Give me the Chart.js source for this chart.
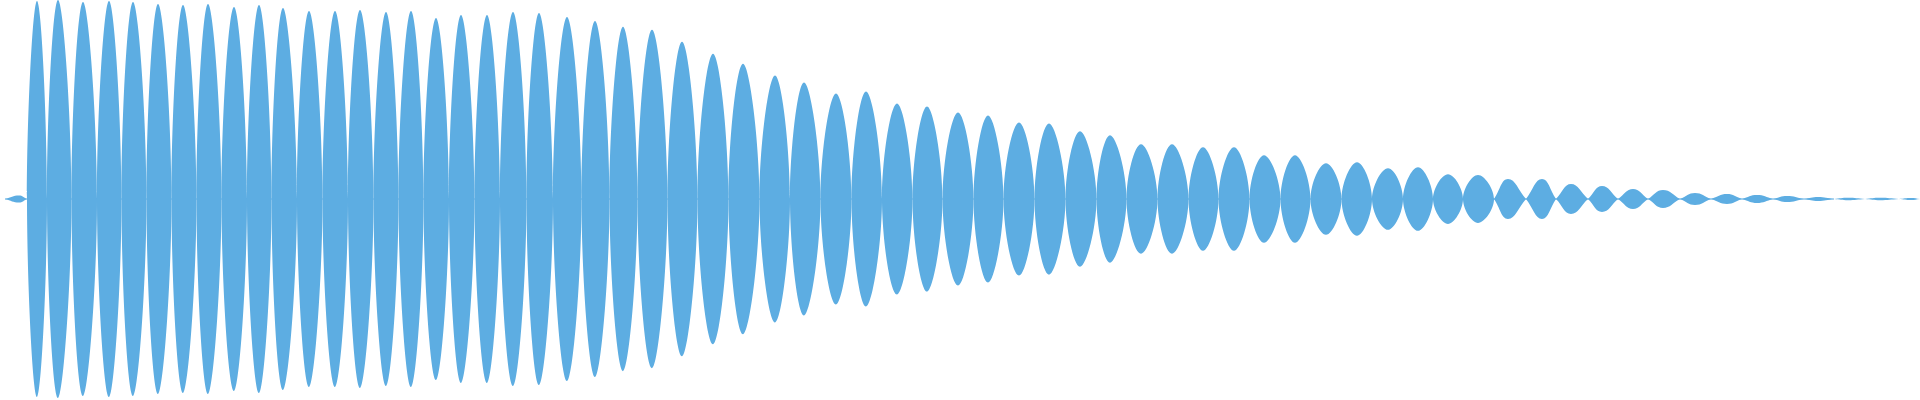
<!DOCTYPE html>
<html>
<head>
<meta charset="utf-8">
<title>Waveform</title>
<script src="https://cdn.jsdelivr.net/npm/chart.js@4/dist/chart.umd.min.js"></script>
<style>
  html, body { margin: 0; padding: 0; background: #ffffff; }
  #wrap { width: 1920px; height: 400px; position: relative; }
</style>
</head>
<body>
<div id="wrap"><canvas id="wave"></canvas></div>
<script>
// Waveform: one lobe per half cycle, drawn mirrored.
// Time in ms (clip ~1.92 s), amplitude normalised to full scale (1.0).

// zero crossings, lobe i runs from zeroCrossingsMs[i] to zeroCrossingsMs[i + 1]
const zeroCrossingsMs = [
  5, 27, 47, 71.5, 97, 121.5, 146.5, 171.5, 196.5, 221.5,
  247, 271.5, 297, 322.5, 348, 373.5, 398.5, 423.5, 449, 474.5,
  500, 526.5, 553, 581.5, 609.5, 637.5, 667.5, 697.5, 728.5, 759.5,
  790, 820.5, 851.5, 882, 912.5, 942.5, 973.5, 1003.5, 1034.5, 1065.5,
  1096.5, 1126.5, 1157.5, 1188.5, 1218.5, 1249.5, 1280.5, 1310.5, 1341.5, 1372,
  1403, 1433, 1463, 1494, 1526, 1556, 1588, 1618, 1648, 1680,
  1711, 1742, 1773, 1804, 1834, 1865, 1899, 1920,
];

// time of each lobe's peak
const peakMs = [
  19, 37, 58, 83, 109, 133, 158, 183, 208, 234,
  259, 283, 309, 335, 360, 386, 411, 436, 461, 487,
  513, 539, 567, 595, 623, 652, 682, 713, 743, 775,
  804, 836, 866, 897, 927, 958, 988, 1019, 1049, 1080,
  1110, 1141, 1172, 1203, 1234, 1264, 1295, 1326, 1357, 1388,
  1418, 1448, 1478, 1508, 1542, 1571, 1602, 1633, 1663, 1695,
  1727, 1757, 1787, 1818, 1848, 1880, 1911,
];

// peak amplitude of each lobe
const peakAmp = [
  0.018, 0.995, 1.0, 0.99, 0.995, 0.99, 0.98, 0.975, 0.98, 0.965,
  0.975, 0.96, 0.945, 0.945, 0.95, 0.94, 0.945, 0.91, 0.925, 0.925,
  0.94, 0.935, 0.915, 0.895, 0.865, 0.85, 0.79, 0.73, 0.68, 0.62,
  0.585, 0.53, 0.54, 0.48, 0.465, 0.435, 0.42, 0.385, 0.38, 0.34,
  0.32, 0.275, 0.275, 0.26, 0.26, 0.22, 0.22, 0.18, 0.185, 0.155,
  0.16, 0.125, 0.12, 0.10, 0.10, 0.075, 0.065, 0.05, 0.045, 0.03,
  0.025, 0.02, 0.015, 0.01, 0.006, 0.006, 0.005,
];

const WAVE_COLOR = "#5dade2";
// below this the lobes are flat lenses with pointed ends
const SMALL_LOBE = 0.11;
// the thin zero line runs up to this crossing
const ZERO_LINE_END = 64;

/**
 * Tall lobes: one closed run of points round each lobe
 * (bottom, left crossing, top, right crossing, bottom, left, top),
 * then a gap. The overlap makes every corner an inner point so the
 * spline gets proper tangents all the way round.
 */
function buildLoops() {
  const pts = [];
  peakAmp.forEach((amp, i) => {
    if (amp < SMALL_LOBE) return;
    const l = zeroCrossingsMs[i];
    const r = zeroCrossingsMs[i + 1];
    const p = peakMs[i];
    pts.push(
      { x: p, y: -amp },
      { x: l, y: 0 },
      { x: p, y: amp },
      { x: r, y: 0 },
      { x: p, y: -amp },
      { x: l, y: 0 },
      { x: p, y: amp },
      { x: p, y: null }
    );
  });
  return pts;
}

/**
 * Small lobes: crossing, peak, crossing per lobe, one side at a time,
 * so the ends stay pointed.
 */
function buildHalves(sign) {
  const pts = [];
  peakAmp.forEach((amp, i) => {
    if (amp >= SMALL_LOBE) return;
    pts.push(
      { x: zeroCrossingsMs[i], y: 0 },
      { x: peakMs[i], y: sign * amp },
      { x: zeroCrossingsMs[i + 1], y: 0 },
      { x: zeroCrossingsMs[i + 1], y: null }
    );
  });
  return pts;
}

function waveDataset(data, fill, tension) {
  return {
    data,
    fill,
    tension,
    borderWidth: 0,
    borderColor: "rgba(0,0,0,0)",
    backgroundColor: WAVE_COLOR,
    pointRadius: 0,
    spanGaps: false,
  };
}

const zeroLine = {
  data: [
    { x: zeroCrossingsMs[0], y: 0 },
    { x: zeroCrossingsMs[ZERO_LINE_END], y: 0 },
  ],
  fill: false,
  borderWidth: 1,
  borderColor: WAVE_COLOR,
  pointRadius: 0,
};

new Chart(document.getElementById("wave"), {
  type: "line",
  data: {
    datasets: [
      waveDataset(buildLoops(), "shape", 0.42),
      waveDataset(buildHalves(1), "origin", 0.45),
      waveDataset(buildHalves(-1), "origin", 0.45),
      zeroLine,
    ],
  },
  options: {
    responsive: true,
    maintainAspectRatio: false,
    animation: false,
    events: [],
    layout: { padding: 0 },
    plugins: { legend: { display: false }, tooltip: { enabled: false } },
    scales: {
      x: { type: "linear", min: 0, max: 1920, display: false },
      y: { min: -1.01, max: 1.0, display: false },
    },
  },
});
</script>
</body>
</html>
